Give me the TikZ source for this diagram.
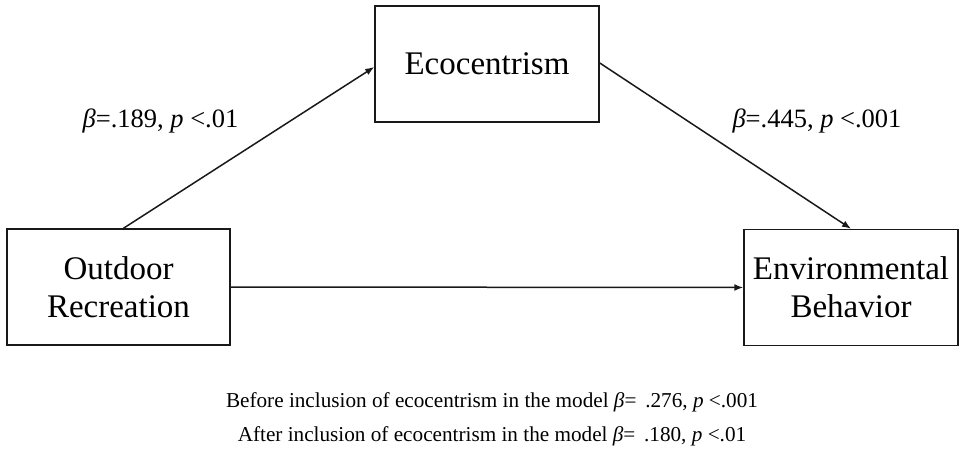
\documentclass[tikz,border=0pt]{standalone}
\usepackage{fontspec}
\setmainfont{Liberation Serif}
\usepackage{tikz}
\usetikzlibrary{arrows.meta,positioning}
\tikzset{
  ar/.style={-{Latex[length=9pt,width=7pt]},line width=1.5pt,black!90},
  vbox/.style={draw=black!90,line width=1.5pt,align=center,inner sep=0pt,minimum height=116pt,font=\fontsize{33}{38}\selectfont},
  coef/.style={anchor=base,inner sep=0pt,font=\fontsize{26.5}{31}\selectfont},
  note/.style={anchor=base,inner sep=0pt,font=\fontsize{21.2}{25}\selectfont}
}

\begin{document}
\begin{tikzpicture}[x=1pt,y=1pt]
\useasboundingbox (0,0) rectangle (960,450);
\node[vbox,minimum width=224pt] (eco) at (487,386) {Ecocentrism};
\node[vbox,minimum width=223pt] (outdoor) at (118.5,163) {Outdoor\\Recreation};
\node[vbox,minimum width=214pt] (envbeh) at (851,162.5) {Environmental\\Behavior};
\draw[ar] ([xshift=5pt]outdoor.north) -- ([yshift=-3pt]eco.west);
\draw[ar] ([yshift=1pt]eco.east) -- (envbeh.north);
\draw[ar] (outdoor.east) -- (envbeh.west);
\node[coef] (ca) at (160.5,322) {\textit{β}=.189, \textit{p} <.01};
\node[coef] (cb) at (817,322) {\textit{β}=.445, \textit{p} <.001};
\node[note] (before) at (492,43) {Before inclusion of ecocentrism in the model \textit{β}= \,.276, \textit{p} <.001};
\node[note] (after) at (492,9) {After inclusion of ecocentrism in the model \textit{β}= \,.180, \textit{p} <.01};
\end{tikzpicture}
\end{document}
